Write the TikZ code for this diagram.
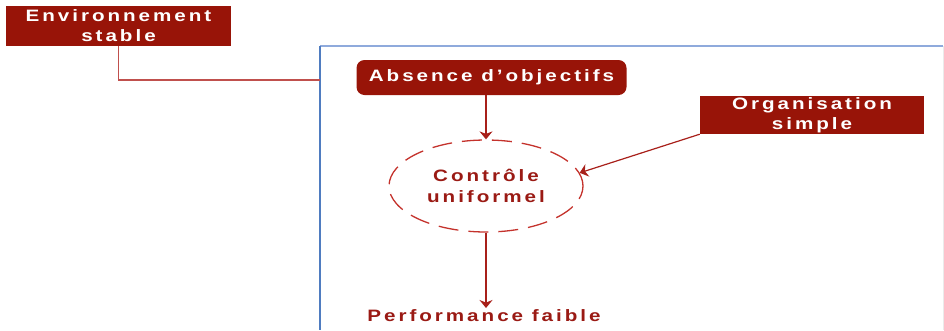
\documentclass[tikz,border=0pt]{standalone}
\usepackage{fontspec}
\setmainfont{Liberation Sans}[LetterSpace=18, FakeStretch=1.25]
\usetikzlibrary{shapes.geometric,arrows.meta,calc}
\definecolor{boxred}{HTML}{981408}
\definecolor{txtred}{HTML}{9A1A14}
\definecolor{linered}{HTML}{A8201A}
\definecolor{softred}{HTML}{C0504D}
\definecolor{dashred}{HTML}{C4322C}
\definecolor{frametop}{HTML}{8FAADC}
\definecolor{frameleft}{HTML}{4F7CC0}
\tikzset{
  redbox/.style={fill=boxred, text=white, font=\bfseries\fontsize{16.5}{20}\selectfont,
    align=center, inner sep=0pt},
  flow/.style={draw=linered, line width=1.2pt, -{Stealth[length=8pt,width=13pt]}},
  redtext/.style={text=txtred, font=\bfseries\fontsize{16.5}{21}\selectfont, align=center}
}
\begin{document}
\begin{tikzpicture}[x=1pt,y=-1pt]
  \useasboundingbox (0,0) rectangle (944,330);
  % open frame around the main chain
  \draw[frametop, line width=1.5pt] (320,46) -- (943,46);
  \draw[frameleft, line width=1.5pt] (320,46) -- (320,330);
  \draw[black!8, line width=0.6pt] (943,46) -- (943,330);

  \node[redbox, minimum width=225pt, minimum height=40pt] (env) at (118.5,26)
    {Environnement\\stable};
  \node[redbox, rounded corners=8pt, minimum width=270pt, minimum height=35pt] (abs)
    at (491.5,77.5) {Absence d’objectifs};
  \node[redbox, minimum width=224pt, minimum height=38pt] (org) at (812,115)
    {Organisation\\simple};
  \node[ellipse, draw=dashred, line width=1.3pt, dash pattern=on 20pt off 10pt,
    minimum width=194pt, minimum height=92pt, redtext] (ell) at (486,186)
    {Contrôle\\uniformel};
  \node[redtext, inner sep=1pt, anchor=north] (perf) at (484,308) {Performance faible};

  \coordinate (envend) at (320,80);
  \draw[softred, line width=1.2pt] (env.south) |- (envend);
  \draw[flow] (abs.south -| ell.north) -- (ell.north);
  \draw[flow] (org.south west) -- (ell.8);
  \draw[flow] (ell.south) -- (ell.south |- perf.north);
\end{tikzpicture}
\end{document}
